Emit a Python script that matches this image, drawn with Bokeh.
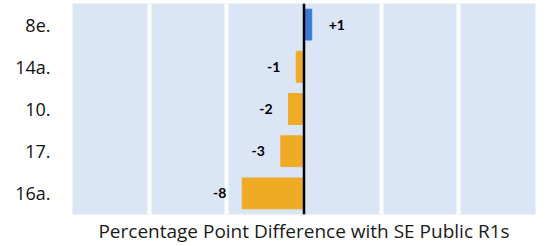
from bokeh.plotting import figure
from bokeh.models import ColumnDataSource, FixedTicker, Span, LabelSet
from bokeh.embed import file_html
from bokeh.resources import INLINE
from bokeh.core.properties import value

categories = ["8e.", "14a.", "10.", "17.", "16a."]
values = [1, -1, -2, -3, -8]
labels = ["+1", "-1", "-2", "-3", "-8"]

colors = ["#3a7bd8" if v > 0 else "#efaa26" for v in values]
aligns = ["left" if v > 0 else "right" for v in values]
offsets = [17 if v > 0 else -16 for v in values]

src = ColumnDataSource(dict(cat=categories, val=values, lab=labels, col=colors,
                            align=aligns, off=offsets))

p = figure(y_range=list(reversed(categories)), x_range=(-30, 30),
           frame_width=463, frame_height=211, output_backend="svg",
           toolbar_location=None, min_border_left=72, min_border_right=16,
           min_border_top=3, min_border_bottom=0)

p.background_fill_color = "#dae5f6"
p.border_fill_color = "white"
p.outline_line_color = None

p.hbar(y="cat", left=0, right="val", height=0.73, color="col", source=src)

p.add_layout(Span(location=0, dimension="height", line_color="black", line_width=2.5))

lbl = LabelSet(x="val", y="cat", text="lab", x_offset="off", source=src,
               text_align="align", text_baseline="middle", text_font_size="14px",
               text_font_style="bold", text_font=value("Lato"), text_color="black")
p.add_layout(lbl)

p.xgrid.ticker = FixedTicker(ticks=[-20, -10, 10, 20])
p.xgrid.grid_line_color = "white"
p.xgrid.grid_line_width = 4
p.ygrid.grid_line_color = None

p.xaxis.ticker = FixedTicker(ticks=[])
p.xaxis.axis_line_color = None
p.xaxis.major_tick_line_color = None
p.xaxis.minor_tick_line_color = None
p.xaxis.major_tick_out = 0
p.xaxis.major_tick_in = 0
p.xaxis.minor_tick_out = 0
p.xaxis.major_label_standoff = 0
p.xaxis.major_label_text_font_size = "0px"
p.xaxis.axis_label = "Percentage Point Difference with SE Public R1s"
p.xaxis.axis_label_text_font = "Open Sans"
p.xaxis.axis_label_text_font_style = "normal"
p.xaxis.axis_label_text_font_size = "19px"
p.xaxis.axis_label_text_color = "#1a1a1a"
p.xaxis.axis_label_standoff = 3

p.yaxis.axis_line_color = None
p.yaxis.major_tick_line_color = None
p.yaxis.minor_tick_line_color = None
p.yaxis.major_tick_out = 0
p.yaxis.major_label_standoff = 22
p.yaxis.major_label_text_font = "Open Sans"
p.yaxis.major_label_text_font_size = "18px"
p.yaxis.major_label_text_color = "#111111"

open("out.html", "w").write(file_html(p, INLINE))
